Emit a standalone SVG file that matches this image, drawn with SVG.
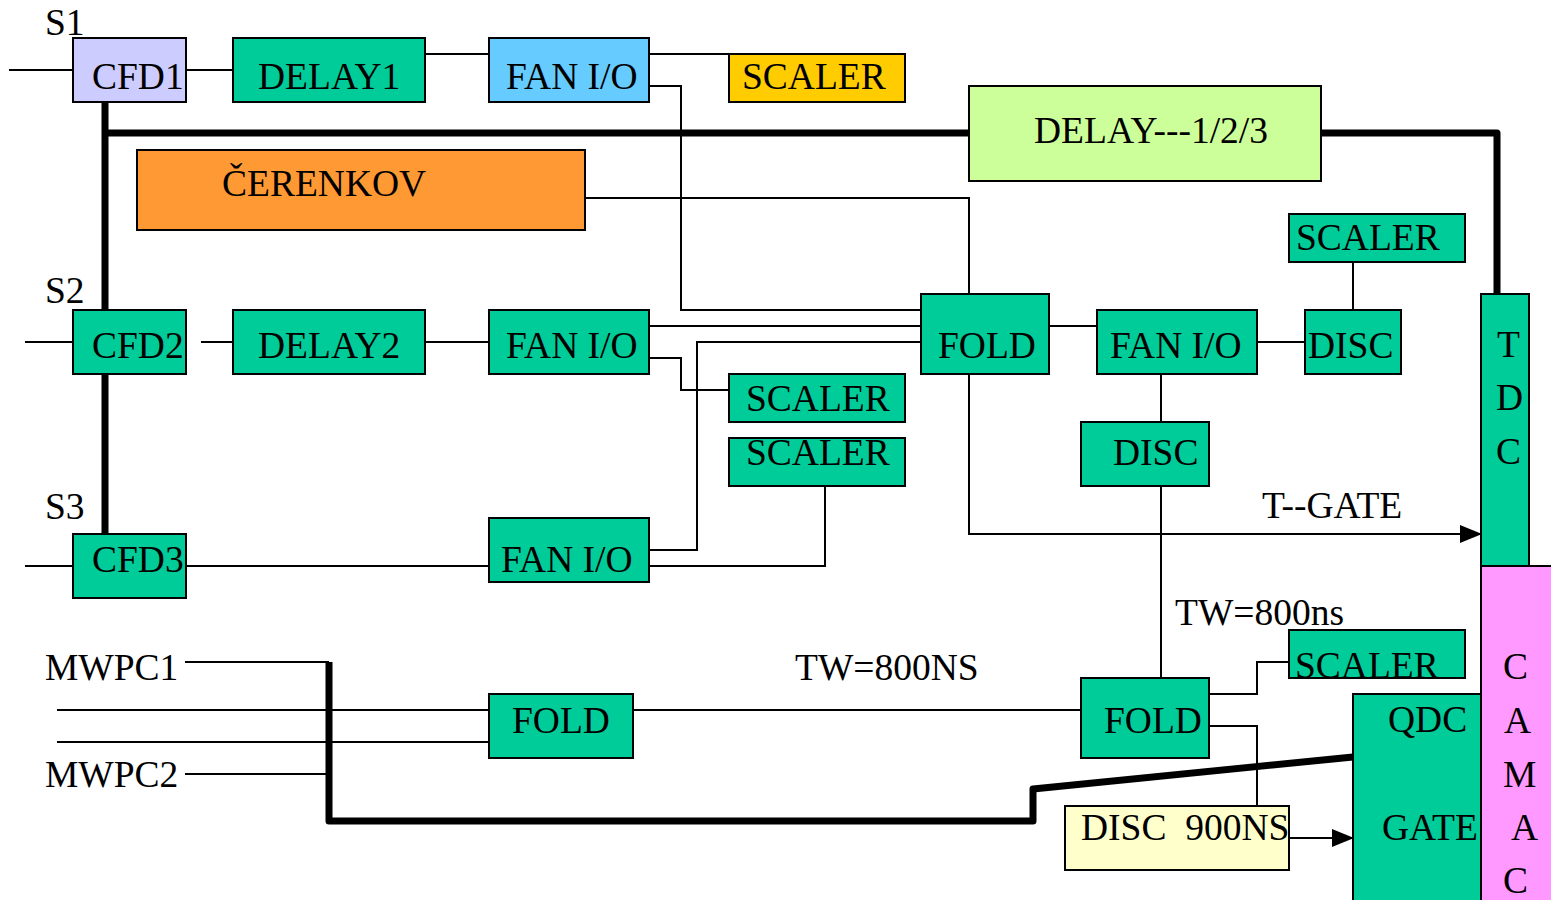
<svg xmlns="http://www.w3.org/2000/svg" width="1551" height="900" viewBox="0 0 1551 900">
<style>
text{font-family:"Liberation Serif","Times New Roman",serif;font-size:37.5px;fill:#000}
.b{stroke:#000;stroke-width:2}
.g{fill:#00CC99}
.t{fill:none;stroke:#000;stroke-width:2}
.k{fill:none;stroke:#000;stroke-width:7;stroke-linejoin:round}
</style>
<defs>
<marker id="ah" markerUnits="userSpaceOnUse" markerWidth="22" markerHeight="18" refX="21" refY="9" orient="auto">
<path d="M0,0 L22,9 L0,18 Z" fill="#000"/>
</marker>
</defs>
<rect width="1551" height="900" fill="#fff"/>
<g id="connectors">
<path class="t" d="M9,70H73 M186,70H233 M425,54H489 M649,54H729"/>
<path class="t" d="M649,86H681V310H921"/>
<path class="t" d="M585,198H969V294"/>
<path class="t" d="M25,342H73 M201,342H233 M425,342H489 M649,326H921"/>
<path class="t" d="M649,358H681V390H729"/>
<path class="t" d="M649,550H697V342H921"/>
<path class="t" d="M649,566H825V486"/>
<path class="t" d="M25,566H73 M186,566H489"/>
<path class="t" d="M1049,326H1097 M1257,342H1305 M1353,262V310"/>
<path class="t" d="M1161,374V422 M1161,486V678"/>
<path class="t" d="M969,374V534H1481" marker-end="url(#ah)"/>
<path class="t" d="M185,662H329 M185,774H329 M57,710H489 M57,742H489 M633,710H1081"/>
<path class="t" d="M1209,694H1257V662H1289 M1209,726H1257V806"/>
<path class="t" d="M1289,838H1353" marker-end="url(#ah)"/>
<path class="k" d="M105,102V310 M105,374V534 M105,133H969 M1321,133H1497V294"/>
<path class="k" d="M329,662V821H1033V789L1353,757"/>
</g>
<text x="45" y="35">S1</text>
<text x="45" y="303">S2</text>
<text x="45" y="519">S3</text>
<text x="45" y="680">MWPC1</text>
<text x="45" y="787">MWPC2</text>
<text x="795" y="680">TW=800NS</text>
<text x="1175" y="625">TW=800ns</text>
<text x="1262" y="518">T--GATE</text>
<g id="cfd1"><rect class="b" x="73" y="38" width="113" height="64" fill="#CCCCFF"/><text x="92" y="89">CFD1</text></g>
<g id="delay1"><rect class="b g" x="233" y="38" width="192" height="64"/><text x="258" y="89">DELAY1</text></g>
<g id="fanio1"><rect class="b" x="489" y="38" width="160" height="64" fill="#66CCFF"/><text x="506" y="89">FAN I/O</text></g>
<g id="scaler1"><rect class="b" x="729" y="54" width="176" height="48" fill="#FFCC00"/><text x="742" y="89">SCALER</text></g>
<g id="delay123"><rect class="b" x="969" y="86" width="352" height="95" fill="#CCFF99"/><text x="1034" y="143">DELAY---1/2/3</text></g>
<g id="cerenkov"><rect class="b" x="137" y="150" width="448" height="80" fill="#FF9933"/><text x="222" y="196">ČERENKOV</text></g>
<g id="scaler2"><rect class="b g" x="1289" y="214" width="176" height="48"/><text x="1296" y="250">SCALER</text></g>
<g id="cfd2"><rect class="b g" x="73" y="310" width="113" height="64"/><text x="92" y="358">CFD2</text></g>
<g id="delay2"><rect class="b g" x="233" y="310" width="192" height="64"/><text x="258" y="358">DELAY2</text></g>
<g id="fanio2"><rect class="b g" x="489" y="310" width="160" height="64"/><text x="506" y="358">FAN I/O</text></g>
<g id="fold1"><rect class="b g" x="921" y="294" width="128" height="80"/><text x="938" y="358">FOLD</text></g>
<g id="fanio4"><rect class="b g" x="1097" y="310" width="160" height="64"/><text x="1110" y="358">FAN I/O</text></g>
<g id="disc1"><rect class="b g" x="1305" y="310" width="96" height="64"/><text x="1308" y="358">DISC</text></g>
<g id="tdc"><rect class="b g" x="1481" y="294" width="48" height="272"/><text x="1497" y="357">T</text><text x="1496" y="410">D</text><text x="1496" y="464">C</text></g>
<g id="scaler3"><rect class="b g" x="729" y="374" width="176" height="48"/><text x="746" y="411">SCALER</text></g>
<g id="scaler4"><rect class="b g" x="729" y="438" width="176" height="48"/><text x="746" y="465">SCALER</text></g>
<g id="disc2"><rect class="b g" x="1081" y="422" width="128" height="64"/><text x="1113" y="465">DISC</text></g>
<g id="cfd3"><rect class="b g" x="73" y="534" width="113" height="64"/><text x="92" y="572">CFD3</text></g>
<g id="fanio3"><rect class="b g" x="489" y="518" width="160" height="64"/><text x="501" y="572">FAN I/O</text></g>
<g id="camac"><rect class="b" x="1481" y="566" width="72" height="336" fill="#FF99FF"/><text x="1503" y="679">C</text><text x="1504" y="733">A</text><text x="1503" y="787">M</text><text x="1511" y="840">A</text><text x="1503" y="893">C</text></g>
<g id="fold2"><rect class="b g" x="489" y="694" width="144" height="64"/><text x="512" y="733">FOLD</text></g>
<g id="fold3"><rect class="b g" x="1081" y="678" width="128" height="80"/><text x="1104" y="733">FOLD</text></g>
<g id="scaler5"><rect class="b g" x="1289" y="630" width="176" height="48"/><text x="1295" y="678">SCALER</text></g>
<g id="qdc"><rect class="b g" x="1353" y="694" width="128" height="208"/><text x="1388" y="732">QDC</text><text x="1382" y="840">GATE</text></g>
<g id="disc900"><rect class="b" x="1065" y="806" width="224" height="64" fill="#FFFFCC"/><text x="1081" y="840" xml:space="preserve">DISC  900NS</text></g>
</svg>
